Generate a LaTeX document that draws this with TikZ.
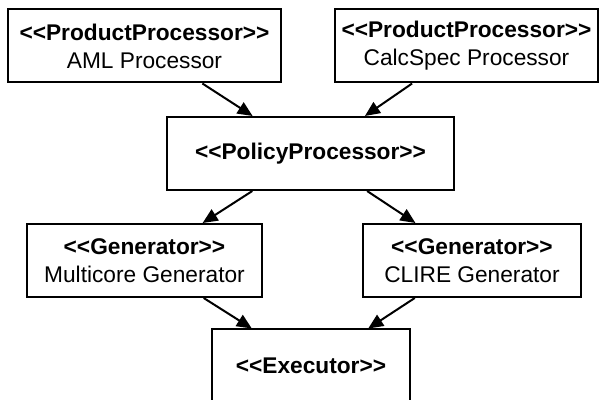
\documentclass[tikz,border=0pt]{standalone}
\usepackage{fontspec}
\newfontfamily\umlfont{Liberation Sans}
\usetikzlibrary{arrows.meta}
\tikzset{
  umlbox/.style={draw,line width=1pt,minimum height=36.5pt,inner sep=0pt,align=center,
    font=\umlfont\fontsize{11.35}{14}\selectfont},
  dep/.style={-{Triangle[length=7.5pt,width=6.5pt]},line width=1pt}
}
\newcommand{\stereo}[1]{\textbf{<<#1>>}}

\begin{document}
\begin{tikzpicture}[x=0.5pt,y=-0.5pt]
\useasboundingbox (0,0) rectangle (602,400);
% classes
\node[umlbox,minimum width=136.5pt] (aml) at (144.5,46) {\stereo{ProductProcessor}\\AML Processor};
\node[umlbox,minimum width=131.5pt] (calc) at (466.5,46) {\stereo{ProductProcessor}\\CalcSpec Processor};
\node[umlbox,minimum width=143.5pt] (policy) at (310.5,153.5) {\stereo{PolicyProcessor}};
\node[umlbox,minimum width=117.5pt] (multi) at (144.5,260.5) {\stereo{Generator}\\Multicore Generator};
\node[umlbox,minimum width=109pt] (clire) at (472,260.5) {\stereo{Generator}\\CLIRE Generator};
\node[umlbox,minimum width=99pt] (exec) at (311,366) {\stereo{Executor}};
% dependencies
\draw[dep] (aml) -- (policy);
\draw[dep] (calc) -- (policy);
\draw[dep] (policy) -- (multi);
\draw[dep] (policy) -- (clire);
\draw[dep] (multi) -- (exec);
\draw[dep] (clire) -- (exec);
\end{tikzpicture}
\end{document}
